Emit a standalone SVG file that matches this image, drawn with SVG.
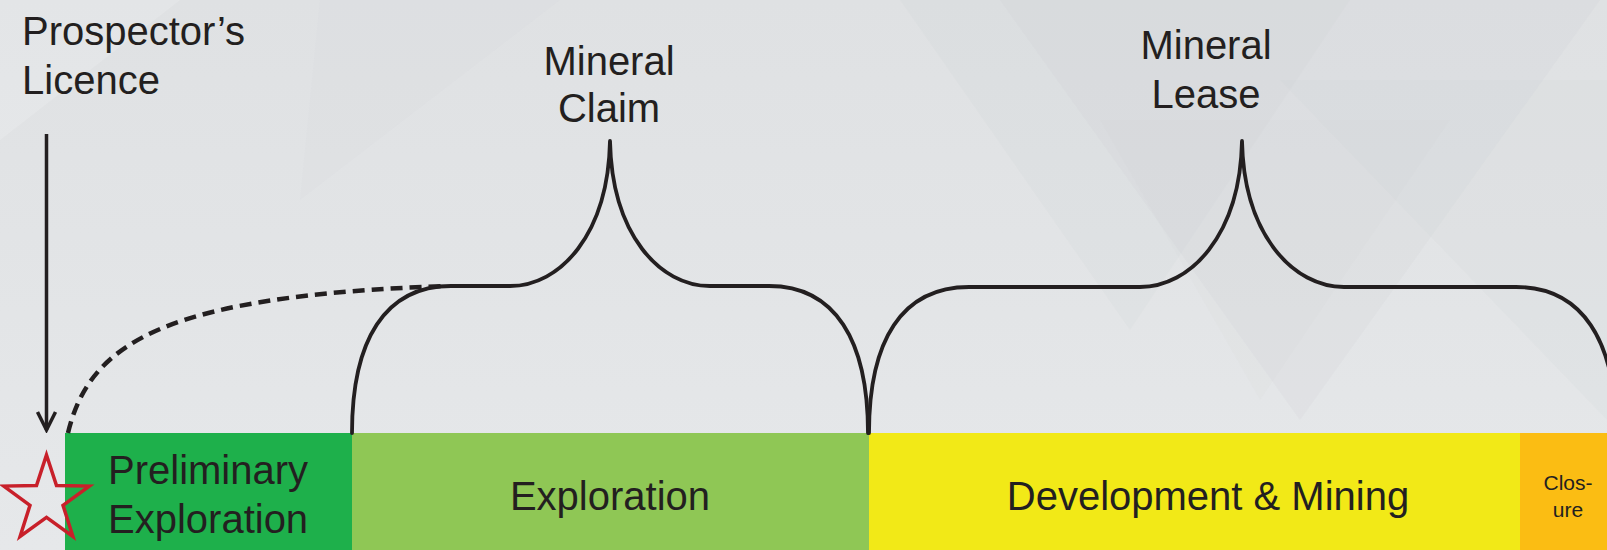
<svg xmlns="http://www.w3.org/2000/svg" width="1607" height="550" viewBox="0 0 1607 550">
<defs>
<style>
.lbl{font-family:"Liberation Sans",Arial,sans-serif;font-size:40px;fill:#231f20}
.sm{font-family:"Liberation Sans",Arial,sans-serif;font-size:21px;fill:#231f20}
.brace{fill:none;stroke:#231f20;stroke-width:3.8;stroke-linecap:round;stroke-linejoin:round}
.facet{fill:#c9cbce}
</style>
<linearGradient id="bg" x1="0" y1="0" x2="0" y2="1">
<stop offset="0" stop-color="#dfe1e3"/>
<stop offset="1" stop-color="#e6e8ea"/>
</linearGradient>
<marker id="arrow" viewBox="0 0 24 24" refX="21" refY="12" markerWidth="24" markerHeight="24" markerUnits="userSpaceOnUse" orient="auto">
<polyline points="3,3 21,12 3,21" fill="none" stroke="#231f20" stroke-width="3.5" stroke-linejoin="miter"/>
</marker>
</defs>
<g id="background">
<rect x="0" y="0" width="1607" height="550" fill="url(#bg)"/>
<polygon class="facet" opacity="0.12" points="900,0 1350,0 1130,330"/>
<polygon class="facet" opacity="0.15" points="1000,0 1600,0 1300,420"/>
<polygon class="facet" opacity="0.1" points="1280,80 1607,80 1607,420"/>
<polygon class="facet" opacity="0.08" points="1100,120 1450,120 1260,400"/>
<polygon class="facet" opacity="0.07" points="320,0 560,0 300,200"/>
<polygon fill="#ffffff" opacity="0.15" points="0,0 180,0 0,140"/>
</g>
<g id="bar-preliminary">
<rect x="65" y="433" width="287" height="117" fill="#1eb04b"/>
<text class="lbl" x="108" y="484">Preliminary</text>
<text class="lbl" x="108" y="533">Exploration</text>
</g>
<g id="bar-exploration">
<rect x="352" y="433" width="517" height="117" fill="#8fc755"/>
<text class="lbl" x="610" y="510" text-anchor="middle">Exploration</text>
</g>
<g id="bar-development">
<rect x="869" y="433" width="651" height="117" fill="#f2e917"/>
<text class="lbl" x="1208" y="510" text-anchor="middle">Development &amp; Mining</text>
</g>
<g id="bar-closure">
<rect x="1520" y="433" width="87" height="117" fill="#fbbd13"/>
<text class="sm" x="1568" y="490" text-anchor="middle">Clos-</text>
<text class="sm" x="1568" y="517" text-anchor="middle">ure</text>
</g>
<g id="prospectors-licence">
<text class="lbl" x="22" y="45">Prospector’s</text>
<text class="lbl" x="22" y="94">Licence</text>
</g>
<g id="mineral-claim">
<text class="lbl" x="609" y="75" text-anchor="middle">Mineral</text>
<text class="lbl" x="609" y="122" text-anchor="middle">Claim</text>
<path class="brace" d="M352,433 C352,340 385,286 451,286 L510,286 C560,286 608,235 610,141 C612,235 660,286 710,286 L769,286 C835,286 868,340 868,433"/>
</g>
<g id="mineral-lease">
<text class="lbl" x="1206" y="59" text-anchor="middle">Mineral</text>
<text class="lbl" x="1206" y="108" text-anchor="middle">Lease</text>
<path class="brace" d="M869,433 C869,340 902,287 969,287 L1140,287 C1190,287 1240,236 1242,141 C1244,236 1294,287 1344,287 L1516,287 C1582,287 1616,340 1616,433"/>
</g>
<g id="start-star">
<polygon points="46.5,455 56.5,485.6 89.3,486.1 63,505.3 72.9,536.4 46.5,517.4 20.1,536.4 30,505.3 3.7,486.1 36.5,485.6" fill="none" stroke="#c8202a" stroke-width="3.5" stroke-linejoin="miter"/>
</g>
<g id="connectors">
<line x1="46.5" y1="134" x2="46.5" y2="430" stroke="#231f20" stroke-width="3.5" marker-end="url(#arrow)"/>
<path d="M68,433 C90,340 170,296 445,286" fill="none" stroke="#231f20" stroke-width="4.5" stroke-dasharray="12 7"/>
</g>
</svg>
